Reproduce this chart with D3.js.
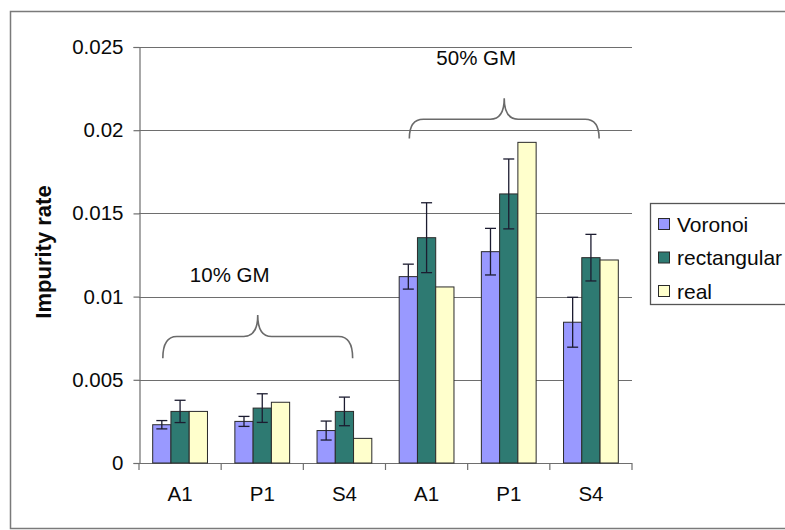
<!DOCTYPE html>
<html>
<head>
<meta charset="utf-8">
<script src="https://cdn.jsdelivr.net/npm/d3@7"></script>
<style>
    body { margin: 0; background: #fff; }
    text { font-family: "Liberation Sans", Arial, sans-serif; fill: #0a0a0a; }
</style>
</head>
<body>
<div id="viewer"></div>
<script>
// category labels along the x axis (two groups of three)
const categories = ['A1', 'P1', 'S4', 'A1', 'P1', 'S4'];
const seriesNames = ['Voronoi', 'rectangular', 'real'];
const seriesColors = ['#9999FF', '#2E7A72', '#FFFFCC'];

// values
const voronoi = [0.0023, 0.0025, 0.00195, 0.0112, 0.0127, 0.00846];
const voronoiErr = [0.00025, 0.0003, 0.00057, 0.00075, 0.0014, 0.0015];
const rectangular = [0.0031, 0.0033, 0.0031, 0.01354, 0.01617, 0.01234];
const rectangularErr = [0.00067, 0.00086, 0.00086, 0.0021, 0.0021, 0.0014];
const real = [0.0031, 0.00365, 0.00148, 0.01058, 0.01927, 0.0122];

const yTicks = [0, 0.005, 0.01, 0.015, 0.02, 0.025];

// group annotations: brace ends, brace bar, brace tip, text baseline (in data units)
const groupLabels = ['10% GM', '50% GM'];
const groupBraceEnds = [0.0063, 0.0195];
const groupBraceBar = [0.0076, 0.02066];
const groupBraceTip = [0.0089, 0.02192];
const groupTextY = [0.01088, 0.02392];

const width = 785;
const height = 530;

const svg = d3.select("#viewer")
    .append("svg")
    .attr("width", width)
    .attr("height", height);

// outer frame of the chart area
svg.append("rect")
    .attr("x", 10.5)
    .attr("y", 11.5)
    .attr("width", 800)
    .attr("height", 517)
    .attr("fill", "#fff")
    .attr("stroke", "#7a7a7a")
    .attr("stroke-width", 1.5);

const x = d3.scaleBand()
    .domain(d3.range(categories.length))
    .range([139, 632]);

const bw = x.bandwidth();
// Excel style gap width 150: three bars + 1.5 bar gap per band
const xs = d3.scaleBand()
    .domain(seriesNames)
    .range([bw * 0.75 / 4.5, bw - bw * 0.75 / 4.5]);

const y = d3.scaleLinear()
    .domain([0, 0.025])
    .range([463, 47]);

// gridlines
svg.append("g")
    .selectAll("line")
    .data(yTicks.slice(1))
    .join("line")
    .attr("x1", 139)
    .attr("x2", 632)
    .attr("y1", d => Math.round(y(d)) + 0.5)
    .attr("y2", d => Math.round(y(d)) + 0.5)
    .attr("stroke", "#6e6e6e")
    .attr("stroke-width", 1.2);

// y axis
const yAxis = svg.append("g")
    .attr("transform", "translate(139.5,0)")
    .call(d3.axisLeft(y).tickValues(yTicks).tickSize(6).tickPadding(10).tickFormat(d => String(+d.toFixed(3))));
yAxis.select(".domain").attr("stroke", "#6e6e6e").attr("stroke-width", 1.2);
yAxis.selectAll(".tick line").attr("stroke", "#6e6e6e").attr("stroke-width", 1.2);
yAxis.selectAll(".tick text")
    .attr("font-size", "20.5px")
    .attr("font-family", "Liberation Sans, Arial, sans-serif")
    .attr("fill", "#0a0a0a");

// x axis with ticks between categories
const xAxisG = svg.append("g");
xAxisG.append("line")
    .attr("x1", 139)
    .attr("x2", 632)
    .attr("y1", 463.5)
    .attr("y2", 463.5)
    .attr("stroke", "#6e6e6e")
    .attr("stroke-width", 1.2);
xAxisG.selectAll(".xtick")
    .data(d3.range(categories.length + 1))
    .join("line")
    .attr("class", "xtick")
    .attr("x1", i => (i < categories.length ? x(i) : x(i - 1) + bw))
    .attr("x2", i => (i < categories.length ? x(i) : x(i - 1) + bw))
    .attr("y1", 463)
    .attr("y2", 470)
    .attr("stroke", "#6e6e6e")
    .attr("stroke-width", 1.2);
xAxisG.selectAll(".xlabel")
    .data(categories)
    .join("text")
    .attr("class", "xlabel")
    .attr("x", (d, i) => x(i) + bw / 2)
    .attr("y", 501)
    .attr("text-anchor", "middle")
    .attr("font-size", "20.5px")
    .text(d => d);

// bars and error bars
const seriesValues = [voronoi, rectangular, real];
const seriesErrors = [voronoiErr, rectangularErr, null];

seriesNames.forEach((name, s) => {
    const g = svg.append("g");
    g.selectAll("rect")
        .data(seriesValues[s])
        .join("rect")
        .attr("x", (d, i) => x(i) + xs(name))
        .attr("y", d => y(d))
        .attr("width", xs.bandwidth())
        .attr("height", d => y(0) - y(d))
        .attr("fill", seriesColors[s])
        .attr("stroke", "#2a2a2a")
        .attr("stroke-width", 1);

    const err = seriesErrors[s];
    if (!err) return;
    const cx = i => x(i) + xs(name) + xs.bandwidth() / 2;
    const eb = g.selectAll(".err")
        .data(seriesValues[s].map((v, i) => ({ v, e: err[i], i })))
        .join("g")
        .attr("class", "err")
        .attr("stroke", "#1c1c30")
        .attr("stroke-width", 1.3);
    eb.append("line")
        .attr("x1", d => cx(d.i)).attr("x2", d => cx(d.i))
        .attr("y1", d => y(d.v + d.e)).attr("y2", d => y(d.v - d.e));
    eb.append("line")
        .attr("x1", d => cx(d.i) - 5.5).attr("x2", d => cx(d.i) + 5.5)
        .attr("y1", d => y(d.v + d.e)).attr("y2", d => y(d.v + d.e));
    eb.append("line")
        .attr("x1", d => cx(d.i) - 5.5).attr("x2", d => cx(d.i) + 5.5)
        .attr("y1", d => y(d.v - d.e)).attr("y2", d => y(d.v - d.e));
});

// curly braces over each group of three categories
function bracePath(x0, x1, yEnd, yBar, yTip) {
    const xm = (x0 + x1) / 2;
    const r = 14;
    return `M${x0},${yEnd}` +
        ` Q${x0},${yBar} ${x0 + r},${yBar}` +
        ` L${xm - r},${yBar}` +
        ` Q${xm},${yBar} ${xm},${yTip}` +
        ` Q${xm},${yBar} ${xm + r},${yBar}` +
        ` L${x1 - r},${yBar}` +
        ` Q${x1},${yBar} ${x1},${yEnd}`;
}

groupLabels.forEach((label, gi) => {
    const first = gi * 3;
    const last = gi * 3 + 2;
    const x0 = x(first) + bw * 0.29;
    const x1 = x(last) + bw * 0.6;
    svg.append("path")
        .attr("d", bracePath(x0, x1, y(groupBraceEnds[gi]), y(groupBraceBar[gi]), y(groupBraceTip[gi])))
        .attr("fill", "none")
        .attr("stroke", "#6a6a6a")
        .attr("stroke-width", 1.6);
    svg.append("text")
        .attr("x", (x0 + x1) / 2 - 28)
        .attr("y", y(groupTextY[gi]))
        .attr("text-anchor", "middle")
        .attr("font-size", "20.5px")
        .text(label);
});

// y axis title
svg.append("text")
    .attr("transform", "translate(51,252) rotate(-90)")
    .attr("text-anchor", "middle")
    .attr("font-size", "22px")
    .attr("font-weight", "bold")
    .text("Impurity rate");

// legend
const legend = svg.append("g");
legend.append("rect")
    .attr("x", 650.5)
    .attr("y", 203.5)
    .attr("width", 200)
    .attr("height", 101)
    .attr("fill", "#fff")
    .attr("stroke", "#555")
    .attr("stroke-width", 1.3);

const legendItem = legend.selectAll(".item")
    .data(seriesNames)
    .join("g")
    .attr("class", "item")
    .attr("transform", (d, i) => `translate(658,${224 + i * 33.5})`);
legendItem.append("rect")
    .attr("x", 0.5)
    .attr("y", -5.5)
    .attr("width", 11)
    .attr("height", 11)
    .attr("fill", (d, i) => seriesColors[i])
    .attr("stroke", "#2a2a2a")
    .attr("stroke-width", 1);
legendItem.append("text")
    .attr("x", 19)
    .attr("y", 7.5)
    .attr("font-size", "21px")
    .text(d => d);
</script>
</body>
</html>
